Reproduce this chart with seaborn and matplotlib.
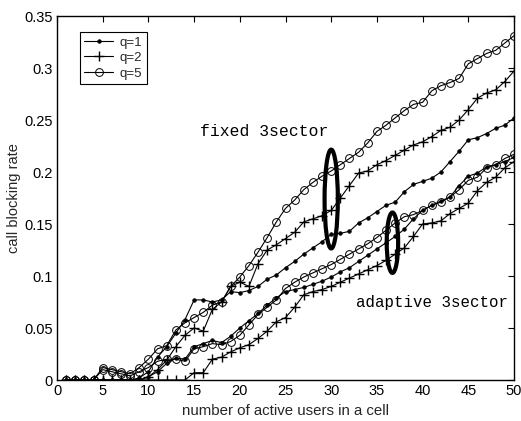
import numpy as np
import pandas as pd
import seaborn as sns
import matplotlib
matplotlib.use("Agg")
import matplotlib.pyplot as plt
from matplotlib.patches import Ellipse

# number of active users in a cell
users = list(range(1, 51))

# fixed 3-sector scheme
fixed_q1 = [0, 0, 0, 0, 0, 0, 0, 0, 0.002, 0.008,
            0.022, 0.032, 0.045, 0.058, 0.077, 0.077, 0.075, 0.077, 0.085, 0.084,
            0.086, 0.090, 0.097, 0.101, 0.108, 0.114, 0.121, 0.127, 0.133, 0.140,
            0.141, 0.143, 0.151, 0.156, 0.162, 0.168, 0.171, 0.181, 0.188, 0.191,
            0.194, 0.200, 0.210, 0.220, 0.231, 0.233, 0.237, 0.242, 0.245, 0.252]
fixed_q2 = [0, 0, 0, 0, 0, 0, 0, 0, 0, 0.003,
            0.010, 0.019, 0.032, 0.043, 0.050, 0.047, 0.068, 0.075, 0.090, 0.094,
            0.090, 0.112, 0.125, 0.130, 0.136, 0.142, 0.152, 0.155, 0.158, 0.163,
            0.175, 0.187, 0.199, 0.201, 0.207, 0.211, 0.216, 0.221, 0.226, 0.229,
            0.234, 0.240, 0.243, 0.250, 0.260, 0.271, 0.276, 0.279, 0.287, 0.297]
fixed_q5 = [0, 0, 0, 0, 0.012, 0.010, 0.008, 0.006, 0.012, 0.020,
            0.030, 0.033, 0.048, 0.055, 0.060, 0.065, 0.072, 0.075, 0.090, 0.099,
            0.110, 0.123, 0.137, 0.152, 0.165, 0.173, 0.183, 0.190, 0.196, 0.201,
            0.207, 0.213, 0.219, 0.228, 0.239, 0.245, 0.252, 0.259, 0.265, 0.267,
            0.278, 0.283, 0.286, 0.290, 0.304, 0.309, 0.314, 0.317, 0.324, 0.331]

# adaptive 3-sector scheme
adapt_q1 = [0, 0, 0, 0, 0, 0, 0, 0, 0, 0.003,
            0.008, 0.016, 0.021, 0.020, 0.032, 0.035, 0.038, 0.036, 0.042, 0.050,
            0.057, 0.064, 0.072, 0.079, 0.085, 0.087, 0.089, 0.092, 0.095, 0.099,
            0.104, 0.108, 0.114, 0.120, 0.126, 0.132, 0.138, 0.145, 0.155, 0.163,
            0.168, 0.172, 0.176, 0.187, 0.196, 0.199, 0.205, 0.207, 0.210, 0.214]
adapt_q2 = [0, 0, 0, 0, 0, 0, 0, 0, 0, 0,
            0, 0, 0, 0, 0.007, 0.007, 0.020, 0.022, 0.027, 0.031,
            0.034, 0.040, 0.047, 0.056, 0.060, 0.070, 0.082, 0.085, 0.087, 0.090,
            0.094, 0.098, 0.102, 0.106, 0.110, 0.115, 0.121, 0.127, 0.138, 0.150,
            0.151, 0.153, 0.160, 0.165, 0.170, 0.182, 0.190, 0.195, 0.204, 0.210]
adapt_q5 = [0, 0, 0, 0, 0.010, 0.008, 0.006, 0.004, 0.008, 0.012,
            0.018, 0.020, 0.020, 0.018, 0.030, 0.032, 0.035, 0.034, 0.037, 0.043,
            0.053, 0.063, 0.070, 0.077, 0.088, 0.094, 0.099, 0.103, 0.107, 0.111,
            0.116, 0.121, 0.126, 0.131, 0.137, 0.144, 0.151, 0.157, 0.159, 0.163,
            0.168, 0.171, 0.176, 0.183, 0.192, 0.195, 0.204, 0.207, 0.213, 0.217]

series_labels = ["q=1", "q=2", "q=5"]
x_ticks = list(range(0, 51, 5))
y_ticks = [0, 0.05, 0.1, 0.15, 0.2, 0.25, 0.3, 0.35]
y_tick_labels = ["0", "0.05", "0.1", "0.15", "0.2", "0.25", "0.3", "0.35"]

sns.set_theme(style="white")
plt.rcParams["font.family"] = ["Liberation Sans", "DejaVu Sans"]
plt.rcParams["xtick.direction"] = "in"
plt.rcParams["ytick.direction"] = "in"

fig = plt.figure(figsize=(5.21, 4.21), dpi=100)
ax = fig.add_axes([57 / 521, 1 - 380 / 421, 457 / 521, 364 / 421])

styles = {
    "q=1": dict(marker="o", markersize=2.6, markerfacecolor="black",
                markeredgecolor="black", markeredgewidth=0.5),
    "q=2": dict(marker="+", markersize=7, markeredgecolor="black",
                markeredgewidth=1.0),
    "q=5": dict(marker="o", markersize=5.6, markerfacecolor="none",
                markeredgecolor="black", markeredgewidth=0.7),
}

groups = [
    (fixed_q1, "q=1"), (fixed_q2, "q=2"), (fixed_q5, "q=5"),
    (adapt_q1, "q=1"), (adapt_q2, "q=2"), (adapt_q5, "q=5"),
]
handles = []
for i, (vals, lab) in enumerate(groups):
    df = pd.DataFrame({"users": users, "rate": vals})
    sns.lineplot(data=df, x="users", y="rate", ax=ax, color="black",
                 linewidth=0.8, estimator=None, errorbar=None,
                 **styles[lab])
    if i < 3:
        handles.append(ax.lines[-1])

ax.set_xlim(0, 50)
ax.set_ylim(0, 0.35)
ax.set_xticks(x_ticks)
ax.set_xticklabels([str(t) for t in x_ticks])
ax.set_yticks(y_ticks)
ax.set_yticklabels(y_tick_labels)
ax.tick_params(axis="both", which="both", top=True, right=True,
               labelsize=10.5, length=4, width=0.8, colors="black", pad=3)
for sp in ax.spines.values():
    sp.set_visible(True)
    sp.set_color("black")
    sp.set_linewidth(1.0)

ax.set_xlabel("number of active users in a cell", fontsize=10.8, labelpad=4)
ax.set_ylabel("call blocking rate", fontsize=10.5, labelpad=2)

leg = ax.legend(handles, series_labels, loc="upper left",
                bbox_to_anchor=(0.035, 0.975), fontsize=9.5, frameon=True,
                fancybox=False, edgecolor="black", framealpha=1,
                borderpad=0.35, labelspacing=0.25, handlelength=2.2,
                handletextpad=0.5)
leg.get_frame().set_linewidth(0.8)

# group markers around the two sector schemes
ax.add_patch(Ellipse((30, 0.174), 1.45, 0.095, fill=False,
                     edgecolor="black", linewidth=3))
ax.add_patch(Ellipse((36.7, 0.132), 1.25, 0.058, fill=False,
                     edgecolor="black", linewidth=3))

ax.text(22.7, 0.239, "fixed 3sector", family=["Liberation Mono", "DejaVu Sans Mono"],
        fontsize=11.8, ha="center", va="center", color="black")
ax.text(41.0, 0.075, "adaptive 3sector", family=["Liberation Mono", "DejaVu Sans Mono"],
        fontsize=11.3, ha="center", va="center", color="black")

fig.savefig("out.png", dpi=100)
